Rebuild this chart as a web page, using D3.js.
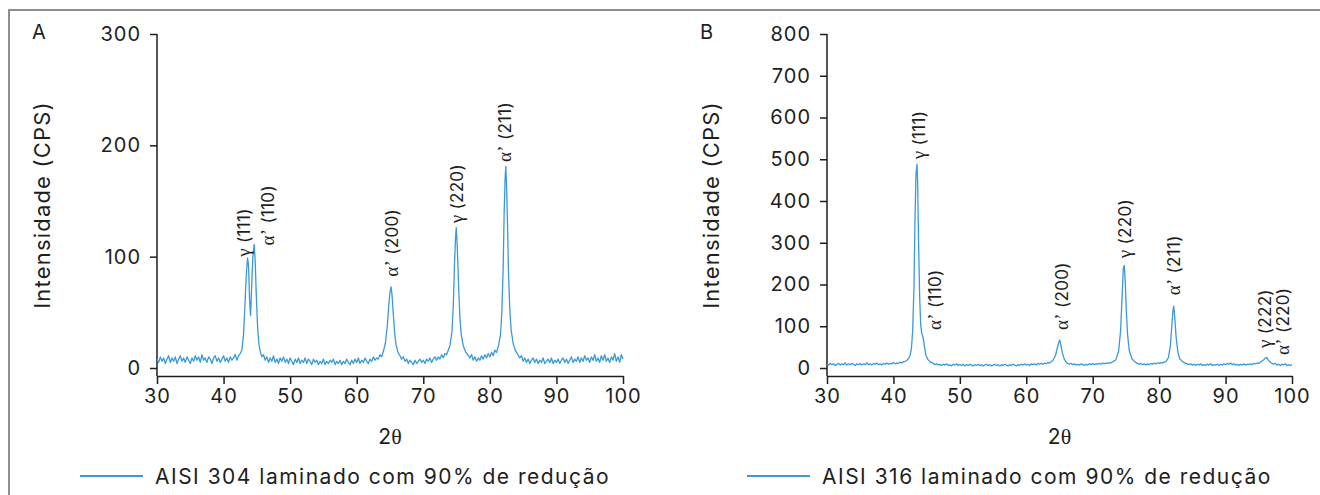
<!DOCTYPE html>
<html>
<head>
<meta charset="utf-8">
<script src="https://cdn.jsdelivr.net/npm/d3@7"></script>
<style>
  body { margin: 0; background: #fff; }
  svg text { font-family: Inter, "Open Sans", sans-serif; font-weight: 400; fill: #1e1e1e; }
</style>
</head>
<body>
<script>
var w = 1320;
var h = 495;

// tick labels
var xTicks = [30, 40, 50, 60, 70, 80, 90, 100];
var yTicksA = [0, 100, 200, 300];
var yTicksB = [0, 100, 200, 300, 400, 500, 600, 700, 800];

var seriesA = "AISI 304 laminado com 90% de redução";
var seriesB = "AISI 316 laminado com 90% de redução";

// difractograma A : [2theta, CPS]
var pointsA = [
  [30, 8], [30.25, 5], [30.5, 10], [30.75, 6], [31, 9], [31.25, 4], [31.5, 8], [31.75, 11], [32, 5], [32.25, 9],
  [32.5, 6], [32.75, 10], [33, 4], [33.25, 8], [33.5, 11], [33.75, 6], [34, 9], [34.25, 5], [34.5, 10], [34.75, 7],
  [35, 4], [35.25, 9], [35.5, 6], [35.75, 11], [36, 7], [36.25, 10], [36.5, 5], [36.75, 12], [37, 7], [37.25, 9],
  [37.5, 5], [37.75, 10], [38, 8], [38.25, 4], [38.5, 9], [38.75, 11], [39, 6], [39.25, 9], [39.5, 5], [39.75, 8],
  [40, 11], [40.25, 6], [40.5, 9], [40.75, 5], [41, 10], [41.25, 7], [41.5, 9], [41.75, 12], [42, 7], [42.25, 11],
  [42.5, 13], [42.75, 16], [43.0, 30], [43.2, 55], [43.4, 82], [43.6, 99], [43.75, 92], [43.9, 62], [44.05, 47], [44.2, 70],
  [44.4, 100], [44.6, 111], [44.75, 96], [44.9, 68], [45.1, 38], [45.3, 22], [45.5, 15], [45.75, 10], [46, 12], [46.25, 7],
  [46.5, 10], [46.75, 5], [47, 9], [47.25, 6], [47.5, 11], [47.75, 5], [48, 8], [48.25, 4], [48.5, 9], [48.75, 6],
  [49, 10], [49.25, 5], [49.5, 8], [49.75, 4], [50, 9], [50.25, 6], [50.5, 3], [50.75, 8], [51, 5], [51.25, 9],
  [51.5, 4], [51.75, 7], [52, 5], [52.25, 9], [52.5, 4], [52.75, 8], [53, 6], [53.25, 3], [53.5, 8], [53.75, 5],
  [54, 7], [54.25, 3], [54.5, 6], [54.75, 4], [55, 8], [55.25, 3], [55.5, 6], [55.75, 4], [56, 7], [56.25, 5],
  [56.5, 8], [56.75, 3], [57, 6], [57.25, 4], [57.5, 7], [57.75, 3], [58, 6], [58.25, 4], [58.5, 8], [58.75, 5],
  [59, 3], [59.25, 7], [59.5, 4], [59.75, 8], [60, 5], [60.25, 9], [60.5, 4], [60.75, 7], [61, 5], [61.25, 9],
  [61.5, 6], [61.75, 4], [62, 8], [62.25, 6], [62.5, 10], [62.75, 7], [63, 9], [63.25, 8], [63.5, 12], [63.75, 10],
  [64, 15], [64.3, 22], [64.6, 38], [64.8, 55], [65.0, 68], [65.15, 73], [65.3, 66], [65.5, 48], [65.7, 32], [65.9, 21],
  [66.2, 14], [66.5, 11], [66.75, 8], [67, 10], [67.25, 6], [67.5, 8], [67.75, 4], [68, 7], [68.25, 5], [68.5, 3],
  [68.75, 7], [69, 4], [69.25, 6], [69.5, 8], [69.75, 5], [70, 7], [70.25, 4], [70.5, 8], [70.75, 6], [71, 9],
  [71.25, 5], [71.5, 8], [71.75, 10], [72, 7], [72.25, 10], [72.5, 8], [72.75, 12], [73, 9], [73.25, 13], [73.5, 12],
  [73.75, 16], [74, 20], [74.3, 32], [74.5, 55], [74.7, 95], [74.85, 118], [74.95, 126], [75.1, 110], [75.3, 75], [75.5, 45],
  [75.7, 30], [76, 20], [76.4, 14], [76.8, 11], [77, 9], [77.25, 12], [77.5, 7], [77.75, 10], [78, 6], [78.25, 9],
  [78.5, 7], [78.75, 11], [79, 8], [79.25, 12], [79.5, 9], [79.75, 13], [80, 10], [80.25, 14], [80.5, 11], [80.75, 16],
  [81, 14], [81.3, 20], [81.6, 30], [81.8, 50], [82.0, 90], [82.15, 140], [82.3, 172], [82.4, 181], [82.5, 165], [82.65, 130],
  [82.8, 85], [83.0, 52], [83.2, 34], [83.5, 22], [83.8, 16], [84.2, 12], [84.5, 9], [84.75, 11], [85, 6], [85.25, 9],
  [85.5, 5], [85.75, 8], [86, 4], [86.25, 7], [86.5, 9], [86.75, 5], [87, 8], [87.25, 4], [87.5, 7], [87.75, 5],
  [88, 9], [88.25, 4], [88.5, 6], [88.75, 8], [89, 5], [89.25, 9], [89.5, 4], [89.75, 7], [90, 5], [90.25, 8],
  [90.5, 4], [90.75, 7], [91, 9], [91.25, 5], [91.5, 8], [91.75, 4], [92, 7], [92.25, 10], [92.5, 5], [92.75, 8],
  [93, 6], [93.25, 10], [93.5, 5], [93.75, 9], [94, 6], [94.25, 11], [94.5, 7], [94.75, 9], [95, 5], [95.25, 10],
  [95.5, 7], [95.75, 12], [96, 6], [96.25, 9], [96.5, 5], [96.75, 11], [97, 7], [97.25, 12], [97.5, 6], [97.75, 9],
  [98, 5], [98.25, 10], [98.5, 7], [98.75, 13], [99, 6], [99.25, 10], [99.5, 5], [99.75, 12], [100, 8]
];

// difractograma B : [2theta, CPS]
var pointsB = [
  [30, 9], [30.25, 7], [30.5, 11], [30.75, 8], [31, 10], [31.25, 6], [31.5, 9], [31.75, 11], [32, 7], [32.25, 10],
  [32.5, 8], [32.75, 12], [33, 7], [33.25, 10], [33.5, 8], [33.75, 11], [34, 9], [34.25, 6], [34.5, 10], [34.75, 8],
  [35, 11], [35.25, 7], [35.5, 10], [35.75, 8], [36, 12], [36.25, 8], [36.5, 10], [36.75, 7], [37, 11], [37.25, 9],
  [37.5, 12], [37.75, 8], [38, 10], [38.25, 7], [38.5, 11], [38.75, 9], [39, 12], [39.25, 9], [39.5, 11], [39.75, 10],
  [40, 13], [40.25, 10], [40.5, 12], [40.75, 11], [41, 14], [41.25, 12], [41.5, 15], [41.75, 16], [42, 18], [42.25, 22],
  [42.5, 30], [42.7, 45], [42.9, 90], [43.1, 200], [43.25, 360], [43.4, 465], [43.55, 488], [43.65, 440], [43.8, 290], [43.95, 170],
  [44.1, 105], [44.25, 84], [44.35, 80], [44.5, 70], [44.7, 48], [44.9, 30], [45.2, 20], [45.6, 14], [46, 11], [46.25, 8],
  [46.5, 10], [46.75, 7], [47, 9], [47.25, 6], [47.5, 9], [47.75, 7], [48, 10], [48.25, 6], [48.5, 8], [48.75, 5],
  [49, 9], [49.25, 7], [49.5, 10], [49.75, 6], [50, 8], [50.25, 6], [50.5, 9], [50.75, 5], [51, 8], [51.25, 6],
  [51.5, 9], [51.75, 7], [52, 5], [52.25, 8], [52.5, 6], [52.75, 9], [53, 6], [53.25, 8], [53.5, 5], [53.75, 7],
  [54, 9], [54.25, 6], [54.5, 8], [54.75, 5], [55, 7], [55.25, 9], [55.5, 6], [55.75, 8], [56, 5], [56.25, 8],
  [56.5, 6], [56.75, 9], [57, 7], [57.25, 5], [57.5, 8], [57.75, 6], [58, 9], [58.25, 7], [58.5, 5], [58.75, 8],
  [59, 6], [59.25, 9], [59.5, 7], [59.75, 10], [60, 7], [60.25, 9], [60.5, 6], [60.75, 10], [61, 8], [61.25, 10],
  [61.5, 7], [61.75, 11], [62, 9], [62.25, 11], [62.5, 9], [62.75, 12], [63, 10], [63.25, 13], [63.5, 12], [63.75, 15],
  [64, 18], [64.4, 30], [64.7, 50], [64.9, 62], [65.05, 67], [65.2, 56], [65.4, 38], [65.7, 22], [66, 14], [66.25, 11],
  [66.5, 9], [66.75, 11], [67, 8], [67.25, 10], [67.5, 7], [67.75, 9], [68, 7], [68.25, 10], [68.5, 8], [68.75, 6],
  [69, 9], [69.25, 7], [69.5, 10], [69.75, 8], [70, 11], [70.25, 8], [70.5, 10], [70.75, 9], [71, 11], [71.25, 9],
  [71.5, 12], [71.75, 10], [72, 12], [72.25, 11], [72.5, 13], [72.75, 12], [73, 15], [73.25, 17], [73.5, 20], [73.9, 40],
  [74.2, 90], [74.45, 180], [74.6, 238], [74.75, 246], [74.9, 205], [75.05, 140], [75.25, 80], [75.5, 42], [75.9, 22], [76.4, 14],
  [76.75, 11], [77, 9], [77.25, 11], [77.5, 8], [77.75, 10], [78, 7], [78.25, 10], [78.5, 8], [78.75, 11], [79, 9],
  [79.25, 12], [79.5, 10], [79.75, 12], [80, 11], [80.25, 13], [80.5, 12], [80.75, 14], [81, 15], [81.4, 25], [81.7, 55],
  [81.95, 110], [82.1, 140], [82.2, 148], [82.35, 122], [82.55, 75], [82.8, 40], [83.1, 22], [83.6, 14], [84.2, 10], [84.5, 8],
  [84.75, 10], [85, 7], [85.25, 9], [85.5, 6], [85.75, 9], [86, 7], [86.25, 10], [86.5, 6], [86.75, 8], [87, 6],
  [87.25, 9], [87.5, 7], [87.75, 10], [88, 6], [88.25, 8], [88.5, 7], [88.75, 9], [89, 6], [89.25, 9], [89.5, 7],
  [89.75, 10], [90, 8], [90.25, 11], [90.5, 9], [90.75, 12], [91, 8], [91.25, 10], [91.5, 7], [91.75, 9], [92, 6],
  [92.25, 9], [92.5, 7], [92.75, 10], [93, 7], [93.25, 9], [93.5, 8], [93.75, 10], [94, 8], [94.25, 11], [94.5, 10],
  [94.75, 12], [95, 11], [95.25, 14], [95.5, 17], [95.75, 20], [96, 24], [96.2, 25], [96.4, 20], [96.6, 16], [96.8, 13],
  [97, 11], [97.25, 9], [97.5, 11], [97.75, 7], [98, 9], [98.25, 6], [98.5, 9], [98.75, 7], [99, 10], [99.25, 6],
  [99.5, 8], [99.75, 6], [100, 8]
];

// peak labels: phase, plane, anchor [2theta, CPS]
var peaksA = [
  { phase: "γ", hkl: " (111)", t: 43.1, i: 100 },
  { phase: "α’", hkl: " (110)", t: 46.7, i: 110 },
  { phase: "α’", hkl: " (200)", t: 65.3, i: 82 },
  { phase: "γ", hkl: " (220)", t: 75.1, i: 130 },
  { phase: "α’", hkl: " (211)", t: 82.3, i: 185 }
];
var peaksB = [
  { phase: "γ", hkl: " (111)", t: 43.9, i: 500 },
  { phase: "α’", hkl: " (110)", t: 46.3, i: 91 },
  { phase: "α’", hkl: " (200)", t: 65.4, i: 91 },
  { phase: "γ", hkl: " (220)", t: 74.9, i: 263 },
  { phase: "α’", hkl: " (211)", t: 82.2, i: 174 },
  { phase: "γ", hkl: " (222)", t: 95.9, i: 48 },
  { phase: "α’", hkl: " (220)", t: 98.6, i: 31 }
];

var blue = "#3a9ad8";
var ink = "#1e1e1e";

var svg = d3.select("body").append("svg").attr("width", w).attr("height", h);

// frame (top and left edges)
svg.append("path")
  .attr("d", "M9,495 V10 H1320")
  .attr("fill", "none")
  .attr("stroke", "#8e8e8e")
  .attr("stroke-width", 2);

function drawPanel(p) {
  var g = svg.append("g");
  var axisY = 376;

  var xScale = d3.scaleLinear().domain([30, 100]).range([p.left, p.right]);
  var yScale = d3.scaleLinear().domain([0, p.yTicks[p.yTicks.length - 1]]).range([368, 34]);

  // axes
  var xAxis = d3.axisBottom(xScale).tickValues(xTicks).tickSize(8).tickSizeOuter(0).tickPadding(5);
  var yAxis = d3.axisLeft(yScale).tickValues(p.yTicks).tickSize(7).tickSizeOuter(0).tickPadding(9);

  var gx = g.append("g").attr("transform", `translate(0,${axisY})`).call(xAxis);
  var gy = g.append("g").attr("transform", `translate(${p.left},0)`).call(yAxis);
  gy.select(".domain").remove();
  gy.append("line")
    .attr("x1", 0).attr("x2", 0)
    .attr("y1", yScale(p.yTicks[p.yTicks.length - 1]))
    .attr("y2", axisY);

  [gx, gy].forEach(function (a) {
    a.selectAll("path, line").attr("stroke", ink).attr("stroke-width", 1.5);
    a.selectAll("text")
      .attr("fill", ink)
      .style("font-family", "Inter, 'Open Sans', sans-serif")
      .style("font-size", "20px")
      .style("letter-spacing", "1px");
  });

  // pattern
  var line = d3.line()
    .x(function (d) { return xScale(d[0]); })
    .y(function (d) { return yScale(d[1]); });

  g.append("path")
    .datum(p.points)
    .attr("d", line)
    .attr("fill", "none")
    .attr("stroke", blue)
    .attr("stroke-width", 1.3)
    .attr("stroke-linejoin", "round");

  // peak labels
  var lab = g.selectAll(".peak")
    .data(p.peaks)
    .enter()
    .append("text")
    .attr("class", "peak")
    .attr("transform", function (d) {
      return `translate(${xScale(d.t)},${yScale(d.i)}) rotate(-90)`;
    })
    .attr("dy", "0.35em")
    .style("font-size", "17px")
    .style("letter-spacing", "0.3px");
  lab.append("tspan")
    .style("font-family", "'Liberation Serif', 'DejaVu Serif', serif")
    .style("font-size", "19px")
    .text(function (d) { return d.phase; });
  lab.append("tspan").text(function (d) { return d.hkl; });

  // panel letter
  g.append("text")
    .attr("x", p.letterX).attr("y", 39)
    .style("font-size", "20px")
    .text(p.letter);

  // axis titles
  g.append("text")
    .attr("transform", `translate(${p.yTitleX},205) rotate(-90)`)
    .attr("text-anchor", "middle")
    .attr("dy", "0.35em")
    .style("font-size", "22px")
    .style("letter-spacing", "1.2px")
    .text("Intensidade (CPS)");

  var xt = g.append("text")
    .attr("x", (p.left + p.right) / 2)
    .attr("y", 444)
    .attr("text-anchor", "middle")
    .style("font-size", "21px");
  xt.append("tspan").text("2");
  xt.append("tspan")
    .style("font-family", "'Liberation Serif', 'DejaVu Serif', serif")
    .style("font-size", "22px")
    .text("θ");

  // legend
  g.append("line")
    .attr("x1", p.legendX).attr("x2", p.legendX + 63)
    .attr("y1", 476).attr("y2", 476)
    .attr("stroke", blue).attr("stroke-width", 2);
  g.append("text")
    .attr("x", p.legendX + 75).attr("y", 484)
    .style("font-size", "21px")
    .style("letter-spacing", "1.5px")
    .text(p.series);
}

drawPanel({
  left: 157, right: 623, yTicks: yTicksA, points: pointsA, peaks: peaksA,
  letter: "A", letterX: 32, yTitleX: 42, legendX: 80, series: seriesA
});

drawPanel({
  left: 827, right: 1292, yTicks: yTicksB, points: pointsB, peaks: peaksB,
  letter: "B", letterX: 700, yTitleX: 711, legendX: 747, series: seriesB
});
</script>
</body>
</html>
